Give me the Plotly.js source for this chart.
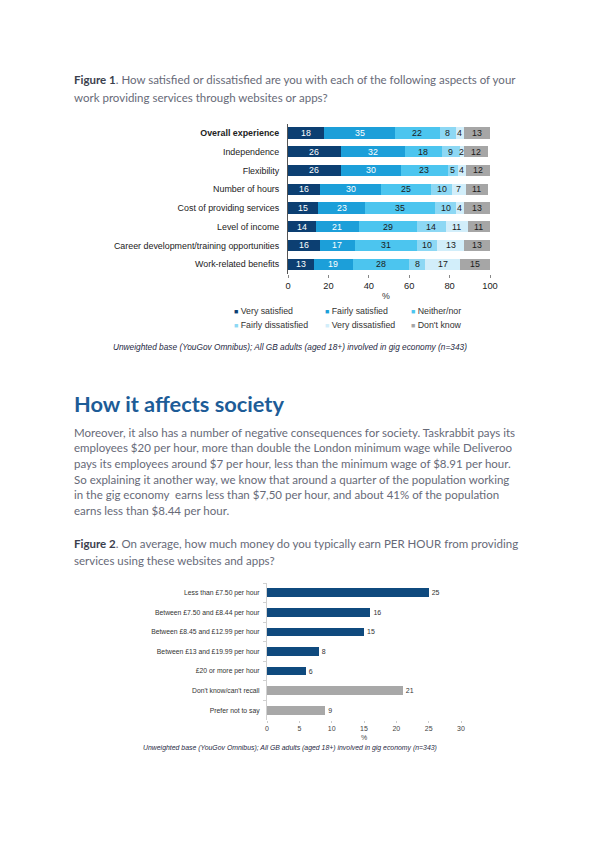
<!DOCTYPE html>
<html><head><meta charset="utf-8">
<script src="https://cdn.plot.ly/plotly-3.0.1.min.js"></script>
<style>html,body{margin:0;padding:0;background:#fff}#chart{width:600px;height:848px}</style>
</head><body><div id="chart"></div>
<script>
// ---------- Figure 1 data ----------
const cats1 = ['Overall experience','Independence','Flexibility','Number of hours','Cost of providing services','Level of income','Career development/training opportunities','Work-related benefits'];
const seriesNames1 = ['Very satisfied','Fairly satisfied','Neither/nor','Fairly dissatisfied','Very dissatisfied',"Don't know"];
const verySatisfied    = [18,26,26,16,15,14,16,13];
const fairlySatisfied  = [35,32,30,30,23,21,17,19];
const neitherNor       = [22,18,23,25,35,29,31,28];
const fairlyDissat     = [8,9,5,10,10,14,10,8];
const veryDissat       = [4,2,4,7,4,11,13,17];
const dontKnow         = [13,12,12,11,13,11,13,15];
const xTicks1 = [0,20,40,60,80,100];

// ---------- Figure 2 data ----------
const cats2 = ['Less than £7.50 per hour','Between £7.50 and £8.44 per hour','Between £8.45 and £12.99 per hour','Between £13 and £19.99 per hour','£20 or more per hour',"Don't know/can't recall",'Prefer not to say'];
const vals2 = [25,16,15,8,6,21,9];
const group2 = ['wage','wage','wage','wage','wage','other','other'];
const xTicks2 = [0,5,10,15,20,25,30];

// ---------- styles ----------
const W = 600, H = 848;
const px = x => x / W, py = y => 1 - y / H;
const colors1 = ['#0c3f72','#1c9fd9','#4cc5ef','#8dd8f4','#d2eefa','#a6a6a6'];
const textCol1 = ['#ffffff','#ffffff','#1a1a1a','#1a1a1a','#1a1a1a','#1a1a1a'];
const groupColor2 = {wage:'#0f4a7e', other:'#a8a8a8'};
const docFont = 'Lato, "Open Sans", sans-serif';
const chartFont = '"Liberation Sans", Arial, sans-serif';
const bodyCol = '#676a78';

const values1 = [verySatisfied, fairlySatisfied, neitherNor, fairlyDissat, veryDissat, dontKnow];

const traces = values1.map((vals, i) => ({
  type:'bar', orientation:'h', name: seriesNames1[i],
  x: vals, y: cats1, xaxis:'x', yaxis:'y',
  marker:{color: colors1[i], line:{width:0}}, hoverinfo:'skip', showlegend:false
}));
traces.push({
  type:'bar', orientation:'h', x: vals2, y: cats2, xaxis:'x2', yaxis:'y2',
  marker:{color: group2.map(g => groupColor2[g]), line:{width:0}},
  width: vals2.map(() => 0.45),
  text: vals2.map(String), textposition:'outside', cliponaxis:false,
  textfont:{family:chartFont, size:7, color:'#333'}, hoverinfo:'skip', showlegend:false
});

const ann = [];
function txt(x, y, text, o) {
  ann.push(Object.assign({xref:'paper', yref:'paper', x:px(x), y:py(y), text, showarrow:false,
    xanchor:'left', yanchor:'middle', align:'left',
    font:{family:docFont, size:11.5, color:bodyCol}}, o||{}));
}

// segment labels figure 1
values1.forEach((vals, i) => {
  vals.forEach((v, j) => {
    let cum = 0; for (let k = 0; k < i; k++) cum += values1[k][j];
    ann.push({xref:'x', yref:'y', x: cum + v/2, y: cats1[j], text: String(v), showarrow:false,
      xanchor:'center', yanchor:'middle', font:{family:chartFont, size:8.8, color:textCol1[i]}});
  });
});

// Document texts
txt(72, 80, '<b style="color:#3c3f4e">Figure 1</b>. How satisfied or dissatisfied are you with each of the following aspects of your');
txt(72, 97, 'work providing services through websites or apps?');
txt(386, 296, '%', {xanchor:'center', font:{family:chartFont, size:8.8, color:'#333'}});
// legend fig1
const legX = [232, 323, 409], legY = [311, 325];
seriesNames1.forEach((n, i) => {
  txt(legX[i % 3], legY[Math.floor(i / 3)], '<span style="color:' + colors1[i] + ';font-size:7px">■</span> ' + n,
    {font:{family:chartFont, size:8.8, color:'#333'}});
});
txt(290, 347, '<i>Unweighted base (YouGov Omnibus); All GB adults (aged 18+) involved in gig economy (n=343)</i>',
  {xanchor:'center', font:{family:chartFont, size:8.3, color:'#1f2a44'}});

txt(72, 404, '<b>How it affects society</b>', {font:{family:docFont, size:21.8, color:'#1d5c97'}});
const bodyLines = [
  'Moreover, it also has a number of negative consequences for society. Taskrabbit pays its',
  'employees $20 per hour, more than double the London minimum wage while Deliveroo',
  'pays its employees around $7 per hour, less than the minimum wage of $8.91 per hour.',
  'So explaining it another way, we know that around a quarter of the population working',
  'in the gig economy  earns less than $7,50 per hour, and about 41% of the population',
  'earns less than $8.44 per hour.'
];
bodyLines.forEach((l, i) => txt(72, 432 + i * 15.7, l));
txt(72, 543, '<b style="color:#3c3f4e">Figure 2</b>. On average, how much money do you typically earn PER HOUR from providing');
txt(72, 560, 'services using these websites and apps?');
txt(364, 737, '%', {xanchor:'center', font:{family:chartFont, size:7, color:'#444'}});
txt(290, 748, '<i>Unweighted base (YouGov Omnibus); All GB adults (aged 18+) involved in gig economy (n=343)</i>',
  {xanchor:'center', font:{family:chartFont, size:6.9, color:'#1f2a44'}});

const layout = {
  width: W, height: H, margin:{l:0, r:0, t:0, b:0},
  paper_bgcolor:'#fff', plot_bgcolor:'rgba(0,0,0,0)',
  barmode:'stack', bargap:0.4, showlegend:false,
  font:{family:chartFont},
  xaxis:{domain:[px(288), px(490)], range:[0,100], tickvals:xTicks1, ticks:'outside', ticklen:3, tickcolor:'#888',
    showgrid:false, zeroline:false, showline:false, anchor:'y', fixedrange:true,
    tickfont:{family:chartFont, size:9.3, color:'#222'}},
  yaxis:{domain:[py(273.5), py(123.5)], autorange:'reversed', type:'category', anchor:'x',
    showline:true, linecolor:'#555', linewidth:1, ticks:'', showgrid:false, zeroline:false,
    tickvals:cats1, ticktext:cats1.map((c, i) => i === 0 ? '<b>' + c + '</b>' : c),
    ticklabelstandoff:6, tickfont:{family:chartFont, size:8.9, color:'#222'}},
  xaxis2:{domain:[px(267), px(461)], range:[0,30], tickvals:xTicks2, ticks:'outside', ticklen:2, tickcolor:'#ccc',
    showgrid:false, zeroline:false, showline:false, anchor:'y2',
    tickfont:{family:chartFont, size:7, color:'#444'}},
  yaxis2:{domain:[py(720), py(583)], autorange:'reversed', type:'category', anchor:'x2',
    showline:true, linecolor:'#d0d0d0', linewidth:1, ticks:'outside', tickson:'boundaries', ticklen:3, tickcolor:'#d0d0d0',
    showgrid:false, zeroline:false, ticklabelstandoff:5,
    tickfont:{family:chartFont, size:6.8, color:'#333'}},
  annotations: ann
};
Plotly.newPlot('chart', traces, layout, {staticPlot:true, displayModeBar:false});
</script></body></html>
